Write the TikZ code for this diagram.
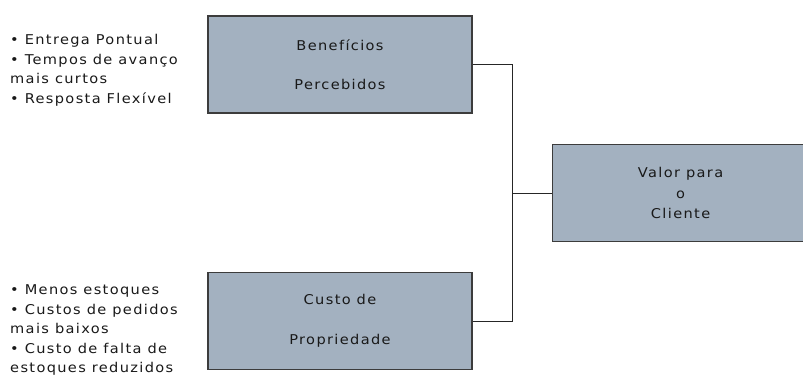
\documentclass[tikz,border=0pt]{standalone}
\usepackage{fontspec}
\setmainfont[LetterSpace=10, FakeStretch=1.08]{DejaVu Sans}
\definecolor{boxfill}{RGB}{163,177,192}
\definecolor{boxline}{RGB}{60,60,60}
\definecolor{textgray}{RGB}{25,25,25}

\tikzset{
    block/.style = {
        rectangle, 
        minimum width=264pt, 
        minimum height=97pt, 
        align=center, 
        draw=boxline, 
        line width=1.2pt,
        fill=boxfill,
        text=textgray
    },
    note/.style = {
        align=left, 
        inner sep=0pt, 
        anchor=west,
        text=textgray
    },
    link/.style = {
        line width=0.8pt, 
        draw=black!85
    }
}

\begin{document}
\begin{tikzpicture}[x=1pt, y=-1pt, every node/.style={font=\fontsize{13.5}{19.5}\selectfont}]
\useasboundingbox (0,0) rectangle (803,376);

\node (benef) [block] at (340,64.5) {Benefícios\\[20pt]Percebidos};
\node (custo) [block] at (340,321) {Custo de\\[20pt]Propriedade};
\node (valor) [block, minimum width=256pt, anchor=west, font=\fontsize{13.5}{20.5}\selectfont] at (552,193) {Valor para\\o\\Cliente};

\node (listtop) [note] at (10,70.5) {• Entrega Pontual\\• Tempos de avanço\\mais curtos\\• Resposta Flexível};
\node (listbot) [note] at (10,330) {• Menos estoques\\• Custos de pedidos\\mais baixos\\• Custo de falta de\\estoques reduzidos};

% Connectors
\coordinate (join) at (512,193);
\draw [link] (benef.east) -| (join) -- (valor.west);
\draw [link] (custo.east) -| (join);

\end{tikzpicture}
\end{document}
